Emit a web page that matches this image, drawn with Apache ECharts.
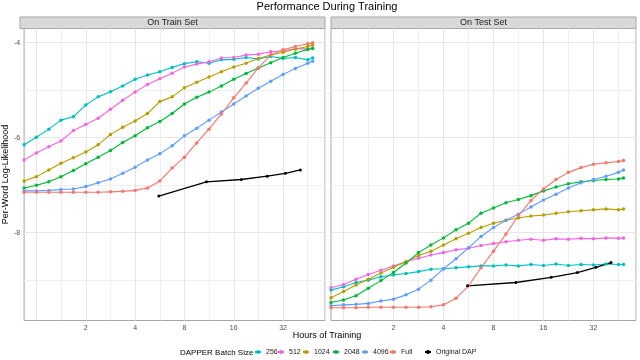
<!DOCTYPE html>
<html>
<head>
<meta charset="utf-8">
<script src="https://cdn.jsdelivr.net/npm/echarts@6/dist/echarts.min.js"></script>
<style>
  html, body { margin: 0; padding: 0; background: #fff; }
  #chart { width: 640px; height: 360px; }
</style>
</head>
<body>
<div id="chart"></div>
<script>
// hours of training (log2 x axis), shared sampling for the DAPPER runs
const hours = [0.841, 1, 1.19, 1.41, 1.68, 2, 2.38, 2.83, 3.36, 4, 4.76, 5.66, 6.73, 8, 9.51, 11.3, 13.45, 16, 19.03, 22.6, 26.9, 32, 38.05, 45.25, 48.5];
const batchNames = ['256', '512', '1024', '2048', '4096', 'Full'];
const batchColors = ['#00BFC4', '#F564E3', '#B79F00', '#00BA38', '#619CFF', '#F8766D'];

// on train set
const train256 = [-6.15, -5.99, -5.82, -5.63, -5.56, -5.31, -5.14, -5.03, -4.91, -4.77, -4.68, -4.61, -4.52, -4.44, -4.40, -4.43, -4.36, -4.35, -4.31, -4.34, -4.29, -4.33, -4.31, -4.36, -4.32];
const train512 = [-6.47, -6.32, -6.19, -6.07, -5.85, -5.72, -5.59, -5.40, -5.21, -5.04, -4.88, -4.76, -4.64, -4.51, -4.45, -4.40, -4.32, -4.31, -4.26, -4.24, -4.19, -4.17, -4.13, -4.13, -4.11];
const train1024 = [-6.91, -6.82, -6.68, -6.54, -6.42, -6.30, -6.15, -5.93, -5.78, -5.65, -5.49, -5.24, -5.14, -4.95, -4.83, -4.72, -4.61, -4.51, -4.43, -4.33, -4.26, -4.20, -4.13, -4.08, -4.05];
const train2048 = [-7.06, -7.00, -6.93, -6.82, -6.69, -6.55, -6.41, -6.27, -6.10, -5.96, -5.79, -5.66, -5.49, -5.29, -5.15, -5.04, -4.91, -4.77, -4.65, -4.53, -4.42, -4.31, -4.22, -4.14, -4.12];
const train4096 = [-7.12, -7.12, -7.11, -7.09, -7.08, -7.03, -6.95, -6.87, -6.75, -6.62, -6.47, -6.34, -6.17, -5.96, -5.80, -5.63, -5.46, -5.29, -5.12, -4.96, -4.81, -4.67, -4.54, -4.43, -4.39];
const trainFull = [-7.15, -7.15, -7.15, -7.15, -7.15, -7.15, -7.15, -7.14, -7.13, -7.11, -7.06, -6.91, -6.64, -6.41, -6.11, -5.82, -5.50, -5.16, -4.85, -4.53, -4.26, -4.15, -4.08, -4.02, -4.00];

// on test set
const test256 = [-9.21, -9.14, -9.05, -9.00, -8.93, -8.89, -8.86, -8.82, -8.77, -8.76, -8.74, -8.72, -8.70, -8.70, -8.68, -8.70, -8.67, -8.69, -8.66, -8.69, -8.67, -8.68, -8.66, -8.67, -8.67];
const test512 = [-9.16, -9.09, -8.98, -8.88, -8.79, -8.70, -8.61, -8.54, -8.47, -8.42, -8.36, -8.33, -8.27, -8.23, -8.19, -8.16, -8.14, -8.16, -8.13, -8.14, -8.12, -8.13, -8.11, -8.12, -8.11];
const test1024 = [-9.37, -9.24, -9.10, -8.98, -8.85, -8.73, -8.61, -8.48, -8.39, -8.26, -8.13, -8.01, -7.89, -7.80, -7.74, -7.69, -7.65, -7.63, -7.59, -7.56, -7.54, -7.52, -7.50, -7.52, -7.50];
const test2048 = [-9.47, -9.42, -9.33, -9.17, -9.01, -8.84, -8.64, -8.42, -8.26, -8.11, -7.94, -7.80, -7.59, -7.48, -7.37, -7.30, -7.22, -7.12, -7.04, -6.97, -6.93, -6.90, -6.88, -6.87, -6.85];
const test4096 = [-9.54, -9.52, -9.51, -9.49, -9.44, -9.40, -9.31, -9.19, -9.00, -8.76, -8.55, -8.32, -8.08, -7.89, -7.74, -7.61, -7.46, -7.31, -7.19, -7.06, -6.95, -6.88, -6.81, -6.73, -6.68];
const testFull = [-9.58, -9.58, -9.58, -9.57, -9.57, -9.57, -9.57, -9.57, -9.56, -9.52, -9.38, -9.12, -8.74, -8.39, -8.03, -7.64, -7.32, -7.08, -6.88, -6.73, -6.63, -6.56, -6.53, -6.50, -6.48];

// original DAP
const dapHours = [5.58, 10.9, 17.8, 25.6, 33.1, 40.8];
const dapTrain = [-7.23, -6.93, -6.88, -6.81, -6.75, -6.68];
const dapTest = [-9.12, -9.05, -8.94, -8.84, -8.73, -8.63];

const xTicks = [2, 4, 8, 16, 32];
const yTicks = [-4, -6, -8];

const FONT = 'Liberation Sans, Arial, sans-serif';
const chart = echarts.init(document.getElementById('chart'));

const fmtX = v => {
  const r = Math.round(v);
  return Math.abs(v - r) < 1e-6 && xTicks.includes(Math.pow(2, r)) ? String(Math.pow(2, r)) : '';
};
const fmtY = v => {
  const r = Math.round(v);
  return Math.abs(v - r) < 1e-6 && yTicks.includes(r) ? String(r) : '';
};
const none = 'rgba(0,0,0,0)';
const major = '#e6e6e6', minor = '#efefef';

// y ticks every 0.05 from -9.85: only whole units get a grid line (even = major, odd = minor)
const yLineColors = [];
for (let k = 0; k < 40; k++) {
  const v = -9.85 + 0.05 * k;
  const r = Math.round(v);
  yLineColors.push(Math.abs(v - r) < 1e-6 ? (r % 2 === 0 ? major : minor) : none);
}

const xAxisBase = (gi) => ({
  type: 'value', gridIndex: gi, min: -0.25, max: 5.85, interval: 0.25,
  axisLine: { show: false }, axisTick: { show: false },
  axisLabel: { formatter: fmtX, fontSize: 7, color: '#4d4d4d', margin: 4, fontFamily: FONT },
  splitLine: { show: true, lineStyle: { width: 1, color: [none, major, none, minor] } }
});
const yAxisBase = (gi) => ({
  type: 'value', gridIndex: gi, min: -9.85, max: -3.7, interval: 0.05,
  axisLine: { show: false }, axisTick: { show: false },
  axisLabel: { show: gi === 0, formatter: fmtY, fontSize: 7, color: '#4d4d4d', margin: 4, fontFamily: FONT },
  splitLine: { show: true, lineStyle: { width: 1, color: yLineColors } }
});

const trainSets = [train256, train512, train1024, train2048, train4096, trainFull];
const testSets = [test256, test512, test1024, test2048, test4096, testFull];

const series = [];
[trainSets, testSets].forEach((sets, gi) => {
  sets.forEach((vals, k) => {
    series.push({
      name: batchNames[k], type: 'line', xAxisIndex: gi, yAxisIndex: gi,
      data: hours.map((h, i) => [Math.log2(h), vals[i]]),
      symbol: 'circle', symbolSize: 3.5, showSymbol: true,
      lineStyle: { width: 1.1, color: batchColors[k] },
      itemStyle: { color: batchColors[k] },
      emphasis: { disabled: true }
    });
  });
  const dap = gi === 0 ? dapTrain : dapTest;
  series.push({
    name: 'Original DAP', type: 'line', xAxisIndex: gi, yAxisIndex: gi,
    data: dapHours.map((h, i) => [Math.log2(h), dap[i]]),
    symbol: 'circle', symbolSize: 3, showSymbol: true,
    lineStyle: { width: 1.3, color: '#000' },
    itemStyle: { color: '#000' },
    emphasis: { disabled: true }
  });
});

// one small legend per key so each sits where the reference puts it
const legendNames = batchNames.concat(['Original DAP']);
const legendLeft = [254, 277, 302, 332, 361, 389, 424];
const legends = legendNames.map((n, i) => ({
  data: [n], left: legendLeft[i], top: 348.5, padding: 0,
  itemWidth: 6, itemHeight: 5, itemGap: 0, selectedMode: false,
  textStyle: { fontSize: 7, color: '#1a1a1a', fontFamily: FONT }
}));

const strip = (x, w, label) => ({
  type: 'group', children: [
    { type: 'rect', shape: { x: x, y: 17, width: w, height: 11.5 },
      style: { fill: '#d9d9d9', stroke: '#a6a6a6', lineWidth: 1 } },
    { type: 'text', x: x + w / 2, y: 23,
      style: { text: label, fontSize: 9, fill: '#1a1a1a', fontFamily: FONT, align: 'center', verticalAlign: 'middle' } }
  ]
});

chart.setOption({
  animation: false,
  backgroundColor: '#fff',
  grid: [
    { left: 20, top: 28.5, width: 305, height: 292, show: true, borderColor: '#a6a6a6', borderWidth: 1, backgroundColor: '#fff' },
    { left: 331, top: 28.5, width: 305, height: 292, show: true, borderColor: '#a6a6a6', borderWidth: 1, backgroundColor: '#fff' }
  ],
  xAxis: [xAxisBase(0), xAxisBase(1)],
  yAxis: [
    Object.assign(yAxisBase(0), {
      name: 'Per-Word Log-Likelihood', nameLocation: 'middle', nameGap: 11, nameRotate: 90,
      nameTextStyle: { fontSize: 9, color: '#000', fontFamily: FONT }
    }),
    yAxisBase(1)
  ],
  legend: legends,
  graphic: [
    { type: 'text', x: 327, y: 7, style: { text: 'Performance During Training', fontSize: 11, fill: '#000', fontFamily: FONT, align: 'center', verticalAlign: 'middle' } },
    { type: 'text', x: 327, y: 336, style: { text: 'Hours of Training', fontSize: 9, fill: '#000', fontFamily: FONT, align: 'center', verticalAlign: 'middle' } },
    { type: 'text', x: 180, y: 353, style: { text: 'DAPPER Batch Size', fontSize: 8, fill: '#000', fontFamily: FONT, align: 'left', verticalAlign: 'middle' } },
    strip(20, 305, 'On Train Set'),
    strip(331, 305, 'On Test Set')
  ],
  series: series
});
</script>
</body>
</html>
